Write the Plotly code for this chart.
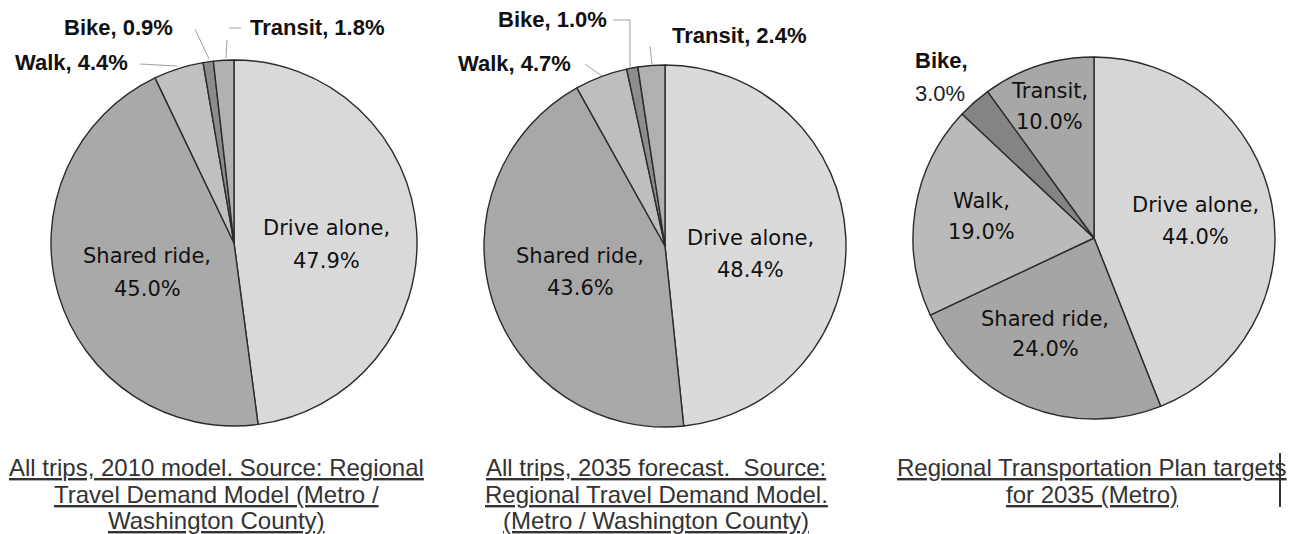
import plotly.graph_objects as go

W, H = 1291, 534

# ---------------- data ----------------
modes = ["Drive alone", "Shared ride", "Walk", "Bike", "Transit"]
share_2010 = [47.9, 45.0, 4.4, 0.9, 1.8]
share_2035 = [48.4, 43.6, 4.7, 1.0, 2.4]
share_rtp = [44.0, 24.0, 19.0, 3.0, 10.0]

caption_2010 = ["All trips, 2010 model. Source: Regional",
                "Travel Demand Model (Metro /",
                "Washington County)"]
caption_2035 = ["All trips, 2035 forecast.\u00a0 Source:",
                "Regional Travel Demand Model.",
                "(Metro / Washington County)"]
caption_rtp = ["Regional Transportation Plan targets",
               "for 2035 (Metro)"]

# ---------------- styling / layout ----------------
colors_2010 = ["#d9d9d9", "#a9a9a9", "#c0c0c0", "#8c8c8c", "#b1b1b1"]
colors_2035 = ["#dadada", "#a8a8a8", "#bebebe", "#8d8d8d", "#b0b0b0"]
colors_rtp = ["#d6d6d6", "#a5a5a5", "#bababa", "#848484", "#a7a7a7"]

# pie centre (px) and radius (px)
geom = [(234, 243, 183), (665, 246, 181), (1094, 238, 181)]

# label placement (px): mode index -> (x, y1, y2) for inner labels, (x, y) outer
inner_pos = [
    {0: (326, 228, 261), 1: (147, 256, 289)},
    {0: (750, 238, 270), 1: (580, 256, 288)},
    {0: (1195, 205, 237), 1: (1045, 319, 349), 2: (981, 201, 232), 4: (1049, 91, 122)},
]
outer_pos = [
    {2: (71, 63), 3: (118, 27), 4: (317, 27)},
    {2: (514, 64), 3: (552, 20), 4: (739, 36)},
    {},
]
leaders = [
    [[(140, 64), (177, 66)], [(195, 29), (209, 59)], [(241, 28), (229, 28)], [(227, 40), (226, 58)]],
    [[(585, 64), (602, 76)], [(613, 20), (630, 20), (630, 68)], [(650, 46), (652, 64)]],
    [],
]
caption_pos = [(216, [467, 494, 520]), (656, [467, 494, 520]), (1092, [467, 494])]


def pxx(x):
    return x / W


def pxy(y):
    return 1 - y / H


fig = go.Figure()
datasets = [share_2010, share_2035, share_rtp]
palettes = [colors_2010, colors_2035, colors_rtp]
for vals, cols, (cx, cy, r) in zip(datasets, palettes, geom):
    fig.add_trace(go.Pie(
        labels=modes, values=vals, sort=False, direction="clockwise", rotation=0,
        textinfo="none", hoverinfo="label+value", showlegend=False,
        marker=dict(colors=cols, line=dict(color="#2b2b2b", width=1.4)),
        domain=dict(x=[pxx(cx - r), pxx(cx + r)], y=[pxy(cy + r), pxy(cy - r)]),
    ))

annotations = []
IN_FONT = dict(family="DejaVu Sans", size=21, color="#111111")
OUT_FONT = dict(family="Liberation Sans, Arial", size=22, color="#111111")

for k, vals in enumerate(datasets):
    for i, (x, y1, y2) in inner_pos[k].items():
        annotations.append(dict(x=pxx(x), y=pxy(y1), text=f"{modes[i]},", showarrow=False,
                                xref="paper", yref="paper", xanchor="center", yanchor="middle",
                                font=IN_FONT))
        annotations.append(dict(x=pxx(x), y=pxy(y2), text=f"{vals[i]:.1f}%", showarrow=False,
                                xref="paper", yref="paper", xanchor="center", yanchor="middle",
                                font=IN_FONT))
    for i, (x, y) in outer_pos[k].items():
        annotations.append(dict(x=pxx(x), y=pxy(y), text=f"<b>{modes[i]}, {vals[i]:.1f}%</b>",
                                showarrow=False, xref="paper", yref="paper",
                                xanchor="center", yanchor="middle", font=OUT_FONT))

# RTP bike label (outside, two lines, left aligned)
annotations.append(dict(x=pxx(913), y=pxy(61), text=f"<b>{modes[3]},</b>", showarrow=False,
                        xref="paper", yref="paper", xanchor="left", yanchor="middle",
                        font=OUT_FONT))
annotations.append(dict(x=pxx(913), y=pxy(94), text=f"{share_rtp[3]:.1f}%", showarrow=False,
                        xref="paper", yref="paper", xanchor="left", yanchor="middle",
                        font=dict(family="Liberation Sans, Arial", size=22, color="#222222")))

# captions
for (x, ys), lines in zip(caption_pos, [caption_2010, caption_2035, caption_rtp]):
    for y, line in zip(ys, lines):
        annotations.append(dict(x=pxx(x), y=pxy(y), text=f"<u>{line}</u>", showarrow=False,
                                xref="paper", yref="paper", xanchor="center", yanchor="middle",
                                font=dict(family="Liberation Sans, Arial", size=24, color="#333333")))

shapes = []
for group in leaders:
    for pts in group:
        path = "M " + " L ".join(f"{pxx(a)},{pxy(b)}" for a, b in pts)
        shapes.append(dict(type="path", path=path, xref="paper", yref="paper",
                           line=dict(color="#a0a0a0", width=1)))
# cursor-like vertical bar beside the last caption
shapes.append(dict(type="line", x0=pxx(1280), x1=pxx(1280), y0=pxy(453), y1=pxy(507),
                   xref="paper", yref="paper", line=dict(color="#333333", width=2)))

fig.update_layout(
    width=W, height=H, margin=dict(l=0, r=0, t=0, b=0),
    paper_bgcolor="white", plot_bgcolor="white",
    annotations=annotations, shapes=shapes,
)

fig.write_html("out.html", config={"displayModeBar": False},
               post_script="document.body.style.margin='0';document.body.style.overflow='hidden';")
